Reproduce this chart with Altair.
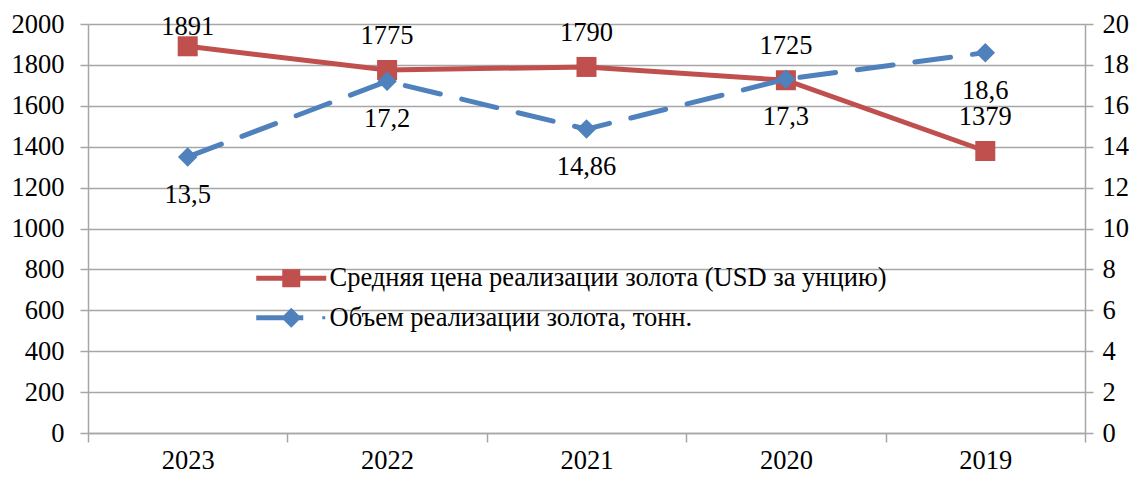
import altair as alt
import pandas as pd

years = ["2023", "2022", "2021", "2020", "2019"]
price = [1891, 1775, 1790, 1725, 1379]
volume = [13.5, 17.2, 14.86, 17.3, 18.6]
series = ["Средняя цена реализации золота (USD за унцию)",
          "Объем реализации золота, тонн."]
left_ticks = list(range(0, 2001, 200))
right_ticks = list(range(0, 21, 2))

RED = "#C0504D"
BLUE = "#4F81BD"
GRID = "#A6A6A6"
FONT = "'Times New Roman', 'Liberation Serif', Times, serif"
FS = 26.5

PATH_RED = ("M-3.5,-0.25L3.5,-0.25L3.5,0.25L-3.5,0.25Z "
            "M-0.9,-0.9L0.9,-0.9L0.9,0.9L-0.9,0.9Z")
PATH_BLUE = ("M-3.5,-0.25L1.2,-0.25L1.2,0.25L-3.5,0.25Z "
             "M-1,0L0,-1L1,0L0,1Z M3.1,-0.15L3.4,-0.15L3.4,0.15L3.1,0.15Z")

price_df = pd.DataFrame({"year": years, "value": price})
vol_df = pd.DataFrame({"year": years, "value": volume})
legend_df = pd.DataFrame({"series": series})

xscale = alt.Scale(type="band", paddingInner=0, paddingOuter=0, domain=years)
xenc = alt.X("year:N", sort=years, title=None, bandPosition=0.5, scale=xscale,
             axis=alt.Axis(tickBand="extent", labelAngle=0, domainColor=GRID,
                           domainWidth=1.5, tickColor=GRID, tickWidth=1.5,
                           tickSize=9, labelPadding=5, grid=False))

yl = alt.Y("value:Q", title=None,
           scale=alt.Scale(domain=[0, 2000], nice=False),
           axis=alt.Axis(orient="left", values=left_ticks, format="d", grid=True,
                         gridColor=GRID, gridWidth=1.5, domainColor=GRID,
                         domainWidth=1.5, tickColor=GRID, tickWidth=1.5,
                         tickSize=8, labelPadding=16))
yr = alt.Y("value:Q", title=None,
           scale=alt.Scale(domain=[0, 20], nice=False),
           axis=alt.Axis(orient="right", values=right_ticks, format="d", grid=False,
                         domainColor=GRID, domainWidth=1.5, tickColor=GRID,
                         tickWidth=1.5, tickSize=8, labelPadding=9))

p_line = alt.Chart().mark_line(strokeWidth=5, color=RED).encode(x=xenc, y=yl)
p_pts = alt.Chart().mark_point(shape="square", filled=True, size=400, opacity=1,
                               color=RED).encode(x=xenc, y=yl)
p_txt_hi = alt.Chart().transform_filter("datum.value > 1850").mark_text(
    dy=-19, font=FONT, fontSize=FS, color="black").encode(x=xenc, y=yl, text="value:Q")
p_txt = alt.Chart().transform_filter("datum.value <= 1850").mark_text(
    dy=-34, font=FONT, fontSize=FS, color="black").encode(x=xenc, y=yl, text="value:Q")
price_layer = alt.layer(p_line, p_pts, p_txt_hi, p_txt, data=price_df)

v_line = alt.Chart().mark_line(strokeWidth=5, strokeDash=[36, 22], strokeCap="round",
                               color=BLUE).encode(x=xenc, y=yr)
v_pts = alt.Chart().mark_point(shape="diamond", filled=True, size=380, opacity=1,
                               color=BLUE).encode(x=xenc, y=yr)
v_txt = alt.Chart().transform_calculate(
    label="replace(toString(datum.value), '.', ',')"
).mark_text(dy=38, font=FONT, fontSize=FS, color="black").encode(
    x=xenc, y=yr, text="label:N")
vol_layer = alt.layer(v_line, v_pts, v_txt, data=vol_df)

leg = dict(orient="none", legendX=190, legendY=241, title=None, padding=0,
           labelFont=FONT, labelFontSize=FS, labelColor="black", labelLimit=0,
           symbolSize=400, labelOffset=25, rowPadding=12.5, symbolOpacity=1,
           symbolStrokeWidth=0)
legend_layer = alt.Chart(legend_df).mark_point(filled=True, opacity=0).encode(
    color=alt.Color("series:N", scale=alt.Scale(domain=series, range=[RED, BLUE]),
                    legend=alt.Legend(**leg)),
    shape=alt.Shape("series:N", scale=alt.Scale(domain=series, range=[PATH_RED, PATH_BLUE]),
                    legend=alt.Legend(**leg)),
)

frame_top = alt.Chart(alt.Data(values=[{}])).mark_rule(color="#BFBFBF", strokeWidth=1).encode(
    x=alt.value(-81), x2=alt.value(1049), y=alt.value(-17))
frame_left = alt.Chart(alt.Data(values=[{}])).mark_rule(color="#BFBFBF", strokeWidth=1).encode(
    x=alt.value(-81), y=alt.value(-17), y2=alt.value(447))

chart = alt.layer(price_layer, vol_layer, legend_layer, frame_top, frame_left).resolve_scale(
    y="independent"
).properties(
    width=997, height=409,
    padding={"left": 80, "top": 16, "right": 44, "bottom": 38},
    autosize=alt.AutoSizeParams(type="none"),
    background="white",
).configure_view(stroke=None).configure_axis(
    labelFont=FONT, labelFontSize=FS, labelColor="black"
).configure_legend(
    labelFont=FONT, labelFontSize=FS, labelColor="black"
).configure_text(font=FONT)

chart.save("out.html", embed_options={"renderer": "svg", "actions": False})
